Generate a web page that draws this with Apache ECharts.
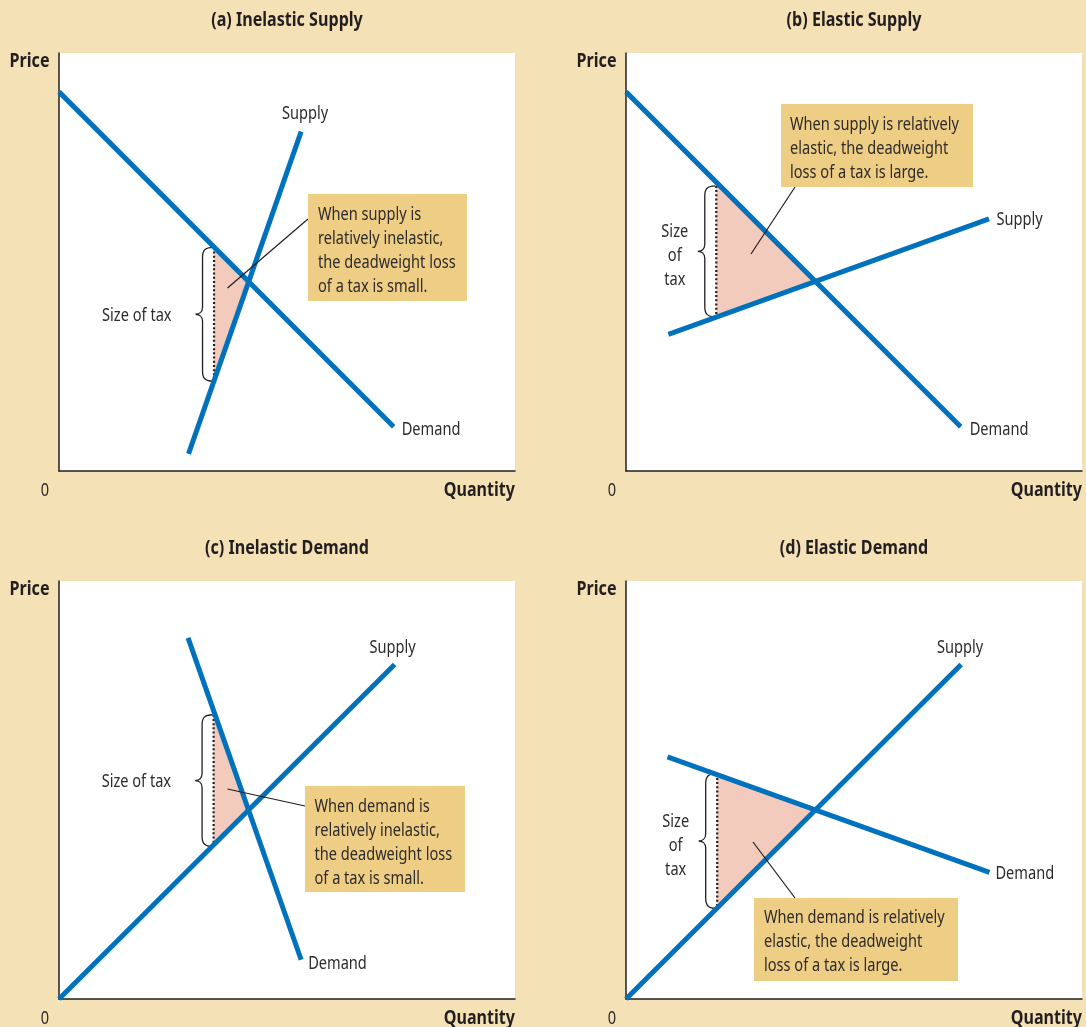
<!DOCTYPE html>
<html>
<head>
<meta charset="utf-8">
<script src="https://cdn.jsdelivr.net/npm/echarts@6/dist/echarts.min.js"></script>
<style>
html,body{margin:0;padding:0;background:#F5E1B6;}
#c{width:1086px;height:1027px;}
</style>
</head>
<body>
<div id="c"></div>
<script>
// ---- data (quantity 0-100, price 0-100 on each panel) ----
const titles = ['(a) Inelastic Supply', '(b) Elastic Supply', '(c) Inelastic Demand', '(d) Elastic Demand'];

const demandA = [[0, 90.7], [73.4, 10.6]];
const supplyA = [[28.4, 4.1], [53.1, 81.2]];
const taxA    = [[34.0, 53.5], [34.0, 21.5], [41.6, 45.3]];

const demandB = [[0, 90.7], [73.4, 10.6]];
const supplyB = [[9.3, 32.7], [79.6, 60.3]];
const taxB    = [[19.8, 68.2], [19.8, 36.9], [41.5, 45.3]];

const demandC = [[28.3, 86.4], [53.1, 9.4]];
const supplyC = [[0, 0], [73.6, 80.0]];
const taxC    = [[33.9, 68.0], [33.9, 36.5], [41.6, 45.1]];

const demandD = [[9.1, 57.9], [79.7, 30.3]];
const supplyD = [[0, 0], [73.5, 80.0]];
const taxD    = [[20.0, 53.9], [20.0, 21.7], [41.3, 45.2]];

const taxLabels = ['Size of tax', 'Size\nof\ntax', 'Size of tax', 'Size\nof\ntax'];
const notes = [
  'When supply is\nrelatively inelastic,\nthe deadweight loss\nof a tax is small.',
  'When supply is relatively\nelastic, the deadweight\nloss of a tax is large.',
  'When demand is\nrelatively inelastic,\nthe deadweight loss\nof a tax is small.',
  'When demand is relatively\nelastic, the deadweight\nloss of a tax is large.'
];

// ---- style / layout ----
const BG = '#F5E1B6', BLUE = '#0071BC', PINK = '#F2CBBD', BOX = '#EECD85', INK = '#231F20', TXT = '#2E2B2B';
const FONT = "'Noto Sans', 'Open Sans', 'DejaVu Sans', sans-serif";
const FS = 18, FSB = 19, DY = 1.5;
// condensed look: horizontal scale so that the sans font matches the condensed widths
const mctx = document.createElement('canvas').getContext('2d');
mctx.font = FS + 'px ' + FONT;
const SX = 137.7 / mctx.measureText('the deadweight loss').width;
mctx.font = 'bold ' + FSB + 'px ' + FONT;
const SXB = 151.6 / mctx.measureText('(a) Inelastic Supply').width;

const grids = [
  {left: 59, top: 53}, {left: 626, top: 53},
  {left: 59, top: 581}, {left: 626, top: 581}
];
const GW = 456, GH = 418;

const chart = echarts.init(document.getElementById('c'), null, {renderer: 'canvas'});

function curve(i, data) {
  return {
    type: 'line', xAxisIndex: i, yAxisIndex: i, z: 3, silent: true, animation: false,
    symbol: 'none', lineStyle: {color: BLUE, width: 5, cap: 'butt'}, data: data
  };
}

function curveLabel(i, data, name, lab) {
  return {
    type: 'custom', xAxisIndex: i, yAxisIndex: i, z: 4, silent: true, animation: false,
    data: [data[data.length - 1]],
    renderItem: function (params, api) {
      const p = api.coord([api.value(0), api.value(1)]);
      return {
        type: 'text', x: p[0] + lab.offset[0], y: p[1] + lab.offset[1] + DY, scaleX: SX,
        style: {text: name, x: 0, y: 0, align: lab.align, verticalAlign: 'middle',
          fill: TXT, fontFamily: FONT, fontSize: FS}
      };
    }
  };
}

function taxSeries(i, tri, label, multi) {
  return {
    type: 'custom', xAxisIndex: i, yAxisIndex: i, z: 1, silent: true, animation: false,
    data: [tri[0].concat(tri[1], tri[2])],
    renderItem: function (params, api) {
      const p0 = api.coord([api.value(0), api.value(1)]);
      const p1 = api.coord([api.value(2), api.value(3)]);
      const p2 = api.coord([api.value(4), api.value(5)]);
      const x0 = p0[0] - 1, yT = p0[1], yB = p1[1], yM = (yT + yB) / 2;
      const path = 'M' + x0 + ' ' + yT +
        ' C' + (x0 - 8) + ' ' + yT + ' ' + (x0 - 10.5) + ' ' + (yT + 3) + ' ' + (x0 - 10.5) + ' ' + (yT + 10) +
        ' L' + (x0 - 10.5) + ' ' + (yM - 7) +
        ' C' + (x0 - 10.5) + ' ' + (yM - 2) + ' ' + (x0 - 14) + ' ' + yM + ' ' + (x0 - 17.5) + ' ' + yM +
        ' C' + (x0 - 14) + ' ' + yM + ' ' + (x0 - 10.5) + ' ' + (yM + 2) + ' ' + (x0 - 10.5) + ' ' + (yM + 7) +
        ' L' + (x0 - 10.5) + ' ' + (yB - 10) +
        ' C' + (x0 - 10.5) + ' ' + (yB - 3) + ' ' + (x0 - 8) + ' ' + yB + ' ' + x0 + ' ' + yB;
      const tip = x0 - 17.5;
      return {
        type: 'group',
        children: [
          {type: 'polygon', shape: {points: [p0, p1, p2]}, style: {fill: PINK}},
          {type: 'line', shape: {x1: p0[0], y1: p0[1], x2: p1[0], y2: p1[1]},
            style: {stroke: INK, lineWidth: 2.2, lineDash: [2, 2.2]}},
          {type: 'path', shape: {pathData: path}, style: {stroke: INK, lineWidth: 1.3, fill: null}},
          {type: 'text', x: multi ? tip - 23 : tip - 24, y: (multi ? yM + 3 : yM) + DY, scaleX: SX,
            style: {
              text: label, x: 0, y: 0,
              align: multi ? 'center' : 'right', verticalAlign: 'middle',
              fill: TXT, fontFamily: FONT, fontSize: FS, lineHeight: 24
            }}
        ]
      };
    }
  };
}

const xAxes = [], yAxes = [], gridOpts = [];
grids.forEach((g, i) => {
  gridOpts.push({left: g.left, top: g.top, width: GW, height: GH, show: true,
    backgroundColor: '#ffffff', borderWidth: 0, containLabel: false});
  const ax = {gridIndex: i, type: 'value', min: 0, max: 100,
    axisLine: {show: true, onZero: false, lineStyle: {color: INK, width: 1.5}},
    axisTick: {show: false}, axisLabel: {show: false}, splitLine: {show: false}};
  xAxes.push(Object.assign({}, ax));
  yAxes.push(Object.assign({}, ax));
});

const series = [
  taxSeries(0, taxA, taxLabels[0], false),
  taxSeries(1, taxB, taxLabels[1], true),
  taxSeries(2, taxC, taxLabels[2], false),
  taxSeries(3, taxD, taxLabels[3], true),
  curve(0, demandA), curve(0, supplyA),
  curve(1, demandB), curve(1, supplyB),
  curve(2, demandC), curve(2, supplyC),
  curve(3, demandD), curve(3, supplyD),
  curveLabel(0, demandA, 'Demand', {align: 'left', offset: [8, 2]}),
  curveLabel(0, supplyA, 'Supply', {align: 'center', offset: [4, -19]}),
  curveLabel(1, demandB, 'Demand', {align: 'left', offset: [9, 2]}),
  curveLabel(1, supplyB, 'Supply', {align: 'left', offset: [7.5, -1]}),
  curveLabel(2, demandC, 'Demand', {align: 'left', offset: [7, 3]}),
  curveLabel(2, supplyC, 'Supply', {align: 'center', offset: [-2, -18]}),
  curveLabel(3, demandD, 'Demand', {align: 'left', offset: [6, 0]}),
  curveLabel(3, supplyD, 'Supply', {align: 'center', offset: [-1, -18]})
];

// ---- annotation graphics (layout) ----
const boxes = [
  {x: 308, y: 194, w: 159, h: 107, tx: 318, ty: 201, px1: 308, py1: 219, px2: 227.5, py2: 288},
  {x: 781, y: 104, w: 192, h: 83, tx: 790, ty: 111, px1: 795, py1: 187, px2: 751, py2: 254},
  {x: 305, y: 786, w: 160, h: 106, tx: 314.5, ty: 793, px1: 305, py1: 806, px2: 227.5, py2: 789},
  {x: 754, y: 898, w: 204, h: 83, tx: 764, ty: 904.5, px1: 795, py1: 898, px2: 753, py2: 842}
];
function txt(text, x, y, align, bold, z) {
  return {type: 'text', z: z || 50, x: x, y: y + DY, scaleX: bold ? SXB : SX,
    style: {text: text, x: 0, y: 0, align: align, verticalAlign: 'middle',
      fill: bold ? INK : TXT, fontFamily: FONT, fontSize: bold ? FSB : FS, fontWeight: bold ? 'bold' : 'normal'}};
}
const graphic = [];
grids.forEach((g, i) => {
  const cx = g.left + GW / 2;
  const rowTop = g.top;
  graphic.push(txt(titles[i], cx, rowTop - 34, 'center', true));
  graphic.push(txt('Price', g.left - 9.5, rowTop + 7, 'right', true));
  graphic.push(txt('0', g.left - 14, rowTop + GH + 18, 'center', false));
  graphic.push(txt('Quantity', g.left + GW, rowTop + GH + 18, 'right', true));
  const b = boxes[i];
  graphic.push({type: 'line', z: 60, shape: {x1: b.px1, y1: b.py1, x2: b.px2, y2: b.py2}, style: {stroke: INK, lineWidth: 1.2}});
  graphic.push({type: 'rect', z: 61, shape: {x: b.x, y: b.y, width: b.w, height: b.h}, style: {fill: BOX}});
  graphic.push({type: 'text', z: 62, x: b.tx, y: b.ty + DY, scaleX: SX,
    style: {text: notes[i], x: 0, y: 0, align: 'left', verticalAlign: 'top',
      fill: TXT, fontFamily: FONT, fontSize: FS, lineHeight: 24}});
});

chart.setOption({
  backgroundColor: BG,
  animation: false,
  grid: gridOpts,
  xAxis: xAxes,
  yAxis: yAxes,
  series: series,
  graphic: graphic
});
</script>
</body>
</html>
